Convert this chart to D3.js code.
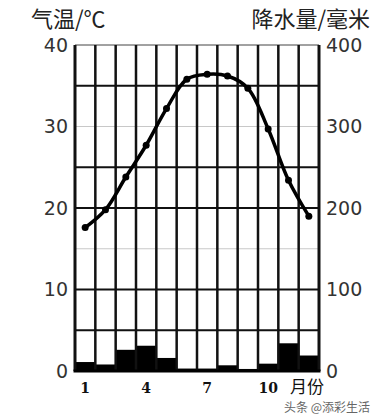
<!DOCTYPE html>
<html>
<head>
<meta charset="utf-8">
<script src="https://cdn.jsdelivr.net/npm/d3@7"></script>
<style>
  body { margin: 0; background: #fff; }
  svg { display: block; }
</style>
</head>
<body>
<script>
// data
var months = [1, 2, 3, 4, 5, 6, 7, 8, 9, 10, 11, 12];
var monthLabels = ["1", "", "", "4", "", "", "7", "", "", "10", "", ""];
var temperature = [17.6, 19.8, 23.8, 27.7, 32.2, 35.8, 36.4, 36.2, 34.7, 29.7, 23.4, 19.0];
var precipitation = [11, 8, 26, 31, 16, 3, 3, 7, 2.5, 9, 34, 19];
var tempTicks = [0, 10, 20, 30, 40];
var precTicks = [0, 100, 200, 300, 400];
var gridLines = [5, 10, 15, 20, 25, 30, 35];
var lightGrid = [15, 30];

// set the dimensions and margins of the graph
var margin = {top: 45, right: 59, bottom: 47, left: 75},
    width = 378 - margin.left - margin.right,
    height = 418 - margin.top - margin.bottom;

var svg = d3.select("body")
    .append("svg")
    .attr("width", 378)
    .attr("height", 418);

var g = svg.append("g")
    .attr("transform", "translate(" + margin.left + "," + margin.top + ")");

// scales
var x = d3.scaleBand().domain(months).range([0, width]).padding(0);
var yT = d3.scaleLinear().domain([0, 40]).range([height, 0]);
var yP = d3.scaleLinear().domain([0, 400]).range([height, 0]);

// precipitation bars
g.selectAll(".bar")
    .data(precipitation)
    .enter()
    .append("rect")
    .attr("x", function(d, i){ return x(months[i]); })
    .attr("width", x.bandwidth())
    .attr("y", function(d){ return yP(d); })
    .attr("height", function(d){ return height - yP(d); })
    .attr("fill", "#000");

// horizontal grid
g.selectAll(".hgrid")
    .data(gridLines)
    .enter()
    .append("line")
    .attr("x1", 0)
    .attr("x2", width)
    .attr("y1", function(d){ return yT(d); })
    .attr("y2", function(d){ return yT(d); })
    .attr("stroke", function(d){ return lightGrid.indexOf(d) >= 0 ? "#c8c8c8" : "#111"; })
    .attr("stroke-width", function(d){ return lightGrid.indexOf(d) >= 0 ? 1 : 2; });

// top border
g.append("line")
    .attr("x1", 0).attr("x2", width)
    .attr("y1", yT(40)).attr("y2", yT(40))
    .attr("stroke", "#444").attr("stroke-width", 1);

// vertical column lines
var edges = months.map(function(m){ return x(m); }).concat([width]);
g.selectAll(".vgrid")
    .data(edges)
    .enter()
    .append("line")
    .attr("x1", function(d){ return d; })
    .attr("x2", function(d){ return d; })
    .attr("y1", 0)
    .attr("y2", height)
    .attr("stroke", "#111")
    .attr("stroke-width", function(d, i){ return (i == 0 || i == edges.length - 1) ? 3 : 2.5; });

// bottom frame
g.append("line")
    .attr("x1", -1.5).attr("x2", width + 1.5)
    .attr("y1", height).attr("y2", height)
    .attr("stroke", "#000").attr("stroke-width", 3);

// temperature line
var line = d3.line()
    .x(function(d, i){ return x(months[i]) + x.bandwidth() / 2; })
    .y(function(d){ return yT(d); })
    .curve(d3.curveCatmullRom);

g.append("path")
    .datum(temperature)
    .attr("d", line)
    .attr("fill", "none")
    .attr("stroke", "#000")
    .attr("stroke-width", 3.5);

g.selectAll(".dot")
    .data(temperature)
    .enter()
    .append("circle")
    .attr("cx", function(d, i){ return x(months[i]) + x.bandwidth() / 2; })
    .attr("cy", function(d){ return yT(d); })
    .attr("r", 3.5)
    .attr("fill", "#000");

// left axis labels
g.selectAll(".tlabel")
    .data(tempTicks)
    .enter()
    .append("text")
    .attr("x", -7)
    .attr("y", function(d){ return yT(d); })
    .attr("dy", "0.36em")
    .attr("text-anchor", "end")
    .style("font-family", "'DejaVu Sans', sans-serif")
    .style("font-size", "19px")
    .style("fill", "#333")
    .text(function(d){ return d; });

// right axis labels
g.selectAll(".plabel")
    .data(precTicks)
    .enter()
    .append("text")
    .attr("x", width + 7)
    .attr("y", function(d){ return yP(d); })
    .attr("dy", "0.36em")
    .attr("text-anchor", "start")
    .style("font-family", "'DejaVu Sans', sans-serif")
    .style("font-size", "19px")
    .style("fill", "#333")
    .text(function(d){ return d; });

// month labels
g.selectAll(".mlabel")
    .data(months)
    .enter()
    .append("text")
    .attr("x", function(d){ return x(d) + x.bandwidth() / 2; })
    .attr("y", height + 22)
    .attr("text-anchor", "middle")
    .style("font-family", "'DejaVu Serif', serif")
    .style("font-weight", "bold")
    .style("font-size", "14px")
    .style("fill", "#111")
    .text(function(d, i){ return monthLabels[i]; });

g.append("text")
    .attr("x", width - 29)
    .attr("y", height + 22)
    .style("font-family", "'Noto Sans CJK SC', sans-serif")
    .style("font-size", "17px")
    .style("fill", "#111")
    .text("月份");

// titles
svg.append("text")
    .attr("x", 31)
    .attr("y", 27)
    .style("font-family", "'Noto Sans CJK SC', sans-serif")
    .style("font-size", "22px")
    .style("fill", "#222")
    .text("气温/℃");

svg.append("text")
    .attr("x", 370)
    .attr("y", 27)
    .attr("text-anchor", "end")
    .style("font-family", "'Noto Sans CJK SC', sans-serif")
    .style("font-size", "22px")
    .style("fill", "#222")
    .text("降水量/毫米");

// watermark
svg.append("text")
    .attr("x", 370)
    .attr("y", 412)
    .attr("text-anchor", "end")
    .style("font-family", "'Noto Sans CJK SC', sans-serif")
    .style("font-size", "12px")
    .style("fill", "#666")
    .text("头条 @添彩生活");
</script>
</body>
</html>
